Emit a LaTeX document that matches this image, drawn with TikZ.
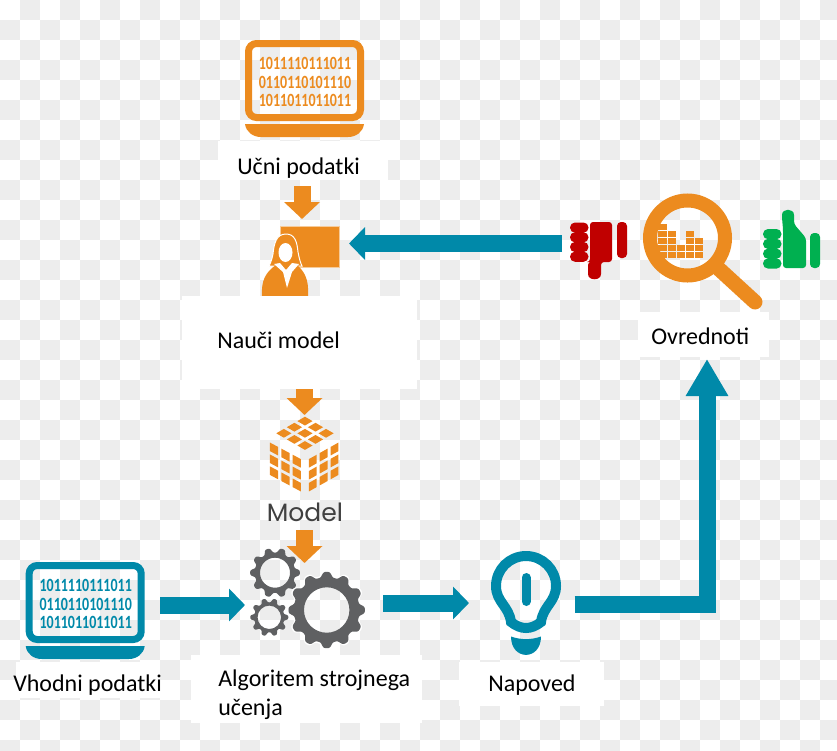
\documentclass[tikz,border=0pt]{standalone}
\usepackage{fontspec}
\setmainfont{Carlito}
\newfontfamily\modelfont{Poppins}
\usetikzlibrary{arrows.meta}
\definecolor{mlorange}{HTML}{EC8B1F}
\definecolor{mlteal}{HTML}{0089A9}
\definecolor{mlgrey}{HTML}{5F6062}
\definecolor{mlred}{HTML}{C00000}
\definecolor{mlgreen}{HTML}{00B050}
\definecolor{mlcheck}{HTML}{EDEDED}
\def\px{0.75pt}
\tikzset{
  caption/.style={anchor=base west,inner sep=0pt,font=\fontsize{18}{21.75}\selectfont},
  digits/.style={inner sep=0pt,xscale=.75,font=\fontsize{14}{14}\bfseries},
  orangearrow/.style={draw=mlorange,line width=17*\px,-{Triangle[length=17*\px,width=35*\px]}},
  tealarrow/.style={draw=mlteal,line width=17*\px,-{Triangle[length=16*\px,width=32*\px]}},
  bigarrow/.style={draw=mlteal,line width=17*\px,-{Triangle[length=37*\px,width=40*\px]}}
}
% laptop with three rows of digits
\newcommand\laptop[4]{
  \begin{scope}[shift={(#2,#3)}]
    \draw[#4,line width=7*\px,rounded corners=8*\px] (3.5,3.5) rectangle (115.5,77.5);
    \fill[#4] (0,84) -- (119,84) .. controls (118,92) and (111,97) .. (103,97) -- (16,97) .. controls (8,97) and (1,92) .. (0,84) -- cycle;
    \node[digits,text=#4] (#1a) at (60,23) {1011110111011};
    \node[digits,text=#4] (#1b) at (60,42) {0110110101110};
    \node[digits,text=#4] (#1c) at (60,60) {1011011011011};
  \end{scope}}
% cog wheel: colour, centre, mean radius, tooth height, teeth, hole
\newcommand\cogwheel[7]{
  \fill[#1,even odd rule,shift={(#2,#3)}] plot[domain=0:360,samples=241] (\x:{#4+#5*tanh(1.5*cos(#6*\x))}) -- cycle (0,0) circle (#7);}
% 3x3 cells of a cube face: origin, step one, step two
\newcommand\cubeface[6]{
  \foreach \i in {0,1,2} {\foreach \j in {0,1,2} {
    \fill[mlorange] ({#1+(\i+.14)*#3+(\j+.14)*#5},{#2+(\i+.14)*#4+(\j+.14)*#6})
      -- ({#1+(\i+.86)*#3+(\j+.14)*#5},{#2+(\i+.86)*#4+(\j+.14)*#6})
      -- ({#1+(\i+.86)*#3+(\j+.86)*#5},{#2+(\i+.86)*#4+(\j+.86)*#6})
      -- ({#1+(\i+.14)*#3+(\j+.86)*#5},{#2+(\i+.14)*#4+(\j+.86)*#6}) -- cycle;}}}
\begin{document}
\begin{tikzpicture}[x=\px,y=-\px]
\useasboundingbox (0,0) rectangle (837,750);
\clip (0,0) rectangle (837,750);
% background squares
\foreach \i in {0,...,41} {\foreach \j in {0,...,37} {
  \pgfmathtruncatemacro\k{mod(\i+\j,2)}
  \ifnum\k=1 \fill[mlcheck] (\i*20,\j*20) rectangle ++(20,20); \fi}}

% icons
\laptop{train}{245}{40}{mlorange}
\laptop{input}{25.7}{562}{mlteal}

% teacher at the board
\fill[mlorange,draw=mlorange!45!white,line width=\px] (280,226) rectangle (339,267);
\fill[mlorange,draw=white,line width=\px] (286,234) .. controls (276,234) and (274,244) .. (273,254) .. controls (272,259) and (271,262) .. (269,266) -- (302,266) .. controls (300,262) and (299,257) .. (298,252) .. controls (297,242) and (295,234) .. (286,234) -- cycle;
\fill[mlorange] (262,296) .. controls (261,280) and (266,272) .. (276,265) -- (297,265) .. controls (305,272) and (309,280) .. (308,296) -- cycle;
\fill[white] (274,264) -- (280,263) -- (286,270) -- (292,263) -- (299,264) -- (292,272) -- (287,288) -- (283,272) -- cycle;
\fill[white] (285.5,252.5) ellipse [x radius=7,y radius=9.5];

% magnifier
\foreach \c/\n in {0/5,1/4,2/2,3/4,4/3} {\foreach \r in {1,...,\n} {
  \fill[mlorange] ({658.3+\c*9.2},{259-\r*7}) rectangle ++(8.2,6);}}
\draw[mlorange,line width=14*\px] (687.5,238) circle (37.5);
\draw[mlorange,line width=15*\px,line cap=round] (719,269) -- (755,302);

% thumbs
\foreach \r in {0,1,2,3} {\fill[mlred,rounded corners=5*\px] (570,{222.5+\r*9.7}) rectangle ++(18.5,10.2);}
\fill[mlred,rounded corners=3*\px] (590,222) -- (612,222) -- (612,262) -- (601,262) -- (601,271) .. controls (601,281) and (588,281) .. (588,271) -- (588,262) -- (590,262) -- cycle;
\fill[mlred,rounded corners=4*\px] (617,222) rectangle (627,258);
\foreach \r in {0,1,2,3} {\fill[mlgreen,rounded corners=5*\px] (763,{229+\r*9.8}) rectangle ++(18.5,10.2);}
\fill[mlgreen,rounded corners=3*\px] (783,229) -- (782,218) .. controls (782,208) and (794,208) .. (794,218) -- (794,224) -- (806,238) -- (806,268) -- (783,268) -- cycle;
\fill[mlgreen,rounded corners=4*\px] (810,233) rectangle (820,268);

% cube and its name
\cubeface{273.3}{433.3}{10.55}{-6.1}{10.55}{6.1}
\cubeface{268.3}{440}{11.4}{6.1}{0}{11.9}
\cubeface{307.3}{458.3}{10.9}{-6.1}{0}{11.9}
\node[anchor=base west,inner sep=0pt,text=black!75,font=\fontsize{18.8}{20}\modelfont] (modelname) at (266.5,521) {Model};

% gears
\cogwheel{mlgrey}{275}{572.7}{22.5}{2.6}{10}{15}
\cogwheel{mlgrey}{269.3}{617.3}{17}{2.2}{10}{11.7}
\cogwheel{white}{326.7}{610}{37}{3}{12}{22.7}
\cogwheel{mlgrey}{326.7}{610}{35.5}{3}{12}{22.7}

% bulb
\draw[mlteal,line width=10*\px] (496,586) .. controls (496,569.4) and (509.4,556) .. (526,556) .. controls (542.6,556) and (556,569.4) .. (556,586) .. controls (556,602) and (543,606) .. (541,622) .. controls (531,630) and (521,630) .. (511,622) .. controls (509,606) and (496,602) .. (496,586) -- cycle;
\draw[mlteal,line width=9*\px,line cap=round] (526,577.5) -- (526,601.5);
\fill[mlteal] (511,636.5) .. controls (521,640) and (531,640) .. (541,636.5) .. controls (541,661) and (511,661) .. (511,636.5) -- cycle;

% white patches behind the captions
\foreach \xa/\ya/\xb/\yb in {218/141/388/180,182/296/417/389,638/312/769/357,16/662/160/698,191/655/422/723,459/662/604/706} {
  \fill[white] (\xa,\ya) rectangle (\xb,\yb);}

% captions
\node[caption] (ucni) at (237,174) {Učni podatki};
\node[caption] (nauci) at (217,348) {Nauči model};
\node[caption] (ovrednoti) at (651,344) {Ovrednoti};
\node[caption] (vhodni) at (13,691) {Vhodni podatki};
\node[caption,align=left] (algoritem) at (218,715) {Algoritem strojnega\\učenja};
\node[caption] (napoved) at (488,691.5) {Napoved};

% arrow ends
\coordinate (ucniout) at (302,186);
\coordinate (teacherin) at (302,219);
\coordinate (naucibot) at (304.5,389);
\coordinate (cubetop) at (304.5,415);
\coordinate (nameout) at (304.5,530);
\coordinate (gearsin) at (304.5,563);
\coordinate (thumbout) at (562,243.5);
\coordinate (boardin) at (349,243.5);
\coordinate (inputout) at (160,605);
\coordinate (gearsleft) at (245,605);
\coordinate (gearsout) at (383,603);
\coordinate (bulbin) at (469,603);
\coordinate (bulbout) at (574.5,604.3);
\coordinate (evalin) at (707,359);

% arrows
\draw[orangearrow] (ucniout) -- (teacherin);
\draw[orangearrow] (naucibot) -- (cubetop);
\draw[orangearrow] (nameout) -- (gearsin);
\draw[tealarrow] (thumbout) -- (boardin);
\draw[tealarrow] (inputout) -- (gearsleft);
\draw[tealarrow] (gearsout) -- (bulbin);
\draw[bigarrow] (bulbout) -| (evalin);
\end{tikzpicture}
\end{document}
